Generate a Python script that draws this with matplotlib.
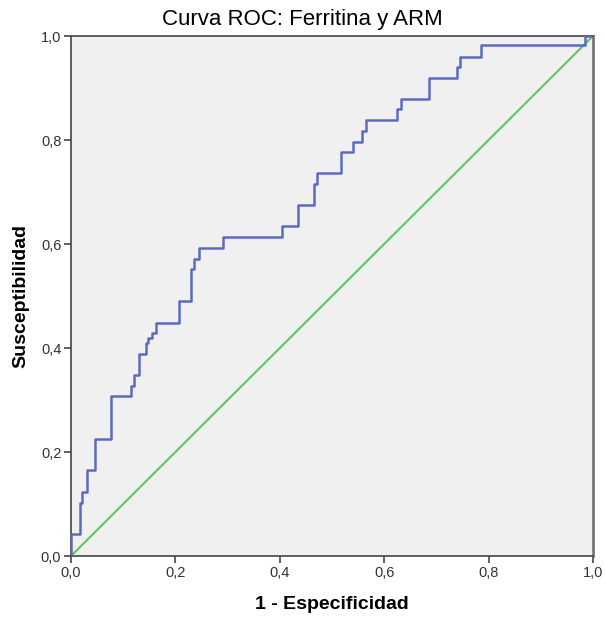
import matplotlib.pyplot as plt
from matplotlib.ticker import FuncFormatter

# ROC corners: x of each vertical step and the tpr at its top
fpr = [0.000, 0.000, 0.017, 0.022, 0.030, 0.046, 0.076, 0.115, 0.121, 0.130,
       0.144, 0.148, 0.155, 0.162, 0.206, 0.229, 0.236, 0.245, 0.291, 0.405,
       0.434, 0.466, 0.472, 0.518, 0.541, 0.557, 0.565, 0.624, 0.633, 0.686,
       0.739, 0.745, 0.785, 0.985, 1.000]
tpr = [0.000, 0.042, 0.102, 0.123, 0.165, 0.225, 0.308, 0.327, 0.348, 0.388,
       0.409, 0.419, 0.429, 0.449, 0.491, 0.551, 0.572, 0.593, 0.614, 0.635,
       0.675, 0.715, 0.736, 0.776, 0.797, 0.817, 0.838, 0.859, 0.879, 0.920,
       0.940, 0.960, 0.983, 1.000, 1.000]
ref_line = [0.0, 1.0]
ticks = [0.0, 0.2, 0.4, 0.6, 0.8, 1.0]

plt.rcParams['font.family'] = ['Liberation Sans', 'DejaVu Sans']

fig = plt.figure(figsize=(6.05, 6.18), dpi=100)
ax = fig.add_axes([71/605, 62/618, 522/605, 520/618])
ax.set_facecolor('#f0f0f0')

ax.plot(ref_line, ref_line, color='#5cc85c', lw=1.5, zorder=2)
ax.plot(fpr, tpr, drawstyle='steps-post', color='#5b6bbf', lw=1.8, zorder=3)

ax.set_xlim(0, 1)
ax.set_ylim(0, 1)
ax.set_xticks(ticks)
ax.set_yticks(ticks)
fmt = FuncFormatter(lambda v, p: f'{v:.1f}'.replace('.', ','))
ax.xaxis.set_major_formatter(fmt)
ax.yaxis.set_major_formatter(fmt)
ax.tick_params(direction='out', length=5, width=1.2, color='#444444',
               labelsize=10.5, labelcolor='#333333', pad=2)

for s in ax.spines.values():
    s.set_color('#444444')
    s.set_linewidth(1.2)
ax.spines['right'].set_color('#777777')
ax.spines['right'].set_linewidth(2)

ax.set_xlabel('1 - Especificidad', fontsize=14, fontweight='bold', labelpad=12)
ax.set_ylabel('Susceptibilidad', fontsize=14, fontweight='bold', labelpad=8)
fig.suptitle('Curva ROC: Ferritina y ARM', x=0.5, y=0.968, fontsize=16,
             va='center')

fig.savefig('out.png', dpi=100)
